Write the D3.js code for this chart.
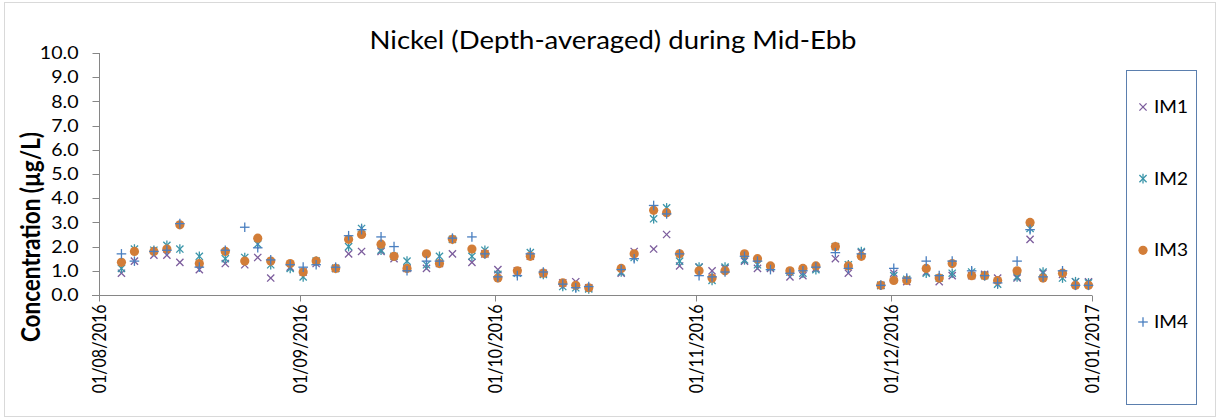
<!DOCTYPE html>
<html>
<head>
<meta charset="utf-8">
<script src="https://cdn.jsdelivr.net/npm/d3@7"></script>
<style>
  html, body { margin: 0; padding: 0; background: #fff; }
  svg { display: block; }
  text { font-family: Lato, "Open Sans", sans-serif; fill: #000; }
</style>
</head>
<body>
<svg id="chart" width="1220" height="419"></svg>
<script>
// Sampling dates (mid-ebb surveys, Aug–Dec 2016)
const dates = [
  "2016-08-04","2016-08-06","2016-08-09","2016-08-11","2016-08-13","2016-08-16","2016-08-20","2016-08-23","2016-08-25","2016-08-27","2016-08-30",
  "2016-09-01","2016-09-03","2016-09-06","2016-09-08","2016-09-10","2016-09-13","2016-09-15","2016-09-17","2016-09-20","2016-09-22","2016-09-24","2016-09-27","2016-09-29",
  "2016-10-01","2016-10-04","2016-10-06","2016-10-08","2016-10-11","2016-10-13","2016-10-15","2016-10-20","2016-10-22","2016-10-25","2016-10-27","2016-10-29",
  "2016-11-01","2016-11-03","2016-11-05","2016-11-08","2016-11-10","2016-11-12","2016-11-15","2016-11-17","2016-11-19","2016-11-22","2016-11-24","2016-11-26","2016-11-29",
  "2016-12-01","2016-12-03","2016-12-06","2016-12-08","2016-12-10","2016-12-13","2016-12-15","2016-12-17","2016-12-20","2016-12-22","2016-12-24","2016-12-27","2016-12-29","2016-12-31"
];

// Depth-averaged nickel concentration (µg/L) per station
const im1 = [0.9,1.4,1.65,1.65,1.35,1.05,1.3,1.25,1.55,0.7,1.15,
  0.95,1.3,1.1,1.7,1.8,1.8,1.5,1.1,1.1,1.3,1.7,1.35,1.7,
  1.05,1.0,1.6,0.9,0.5,0.55,0.3,0.9,1.8,1.9,2.5,1.2,
  1.15,1.0,1.1,1.4,1.1,1.1,0.75,0.8,1.1,1.5,0.9,1.75,0.4,
  0.9,0.55,0.95,0.55,0.8,0.8,0.85,0.7,0.7,2.3,0.9,0.85,0.55,0.55];
const im2 = [1.1,1.9,1.85,2.05,1.9,1.6,1.5,1.55,2.1,1.25,1.1,
  0.75,1.4,1.1,2.0,2.75,1.85,1.6,1.4,1.25,1.6,2.3,1.6,1.85,
  0.85,0.9,1.75,0.85,0.35,0.3,0.25,0.95,1.55,3.15,3.6,1.4,
  1.15,0.6,1.15,1.45,1.25,1.15,0.95,0.9,1.05,2.0,1.25,1.8,0.4,
  0.8,0.65,0.9,0.7,0.9,0.95,0.8,0.45,0.75,2.75,0.95,0.7,0.55,0.5];
const im3 = [1.35,1.8,1.8,1.9,2.9,1.3,1.8,1.4,2.35,1.4,1.3,
  0.95,1.4,1.1,2.3,2.5,2.1,1.6,1.1,1.7,1.3,2.3,1.9,1.7,
  0.7,1.0,1.6,0.9,0.5,0.4,0.3,1.1,1.7,3.5,3.4,1.7,
  1.0,0.7,1.0,1.7,1.5,1.2,1.0,1.1,1.2,2.0,1.2,1.6,0.4,
  0.6,0.6,1.1,0.7,1.3,0.8,0.8,0.6,1.0,3.0,0.7,0.9,0.4,0.4];
const im4 = [1.7,1.4,1.8,1.85,2.95,1.15,1.85,2.8,1.95,1.45,1.25,
  1.15,1.25,1.15,2.45,2.7,2.4,2.0,1.0,1.4,1.4,2.35,2.4,1.7,
  0.75,0.8,1.7,0.95,0.45,0.3,0.35,1.05,1.5,3.7,3.35,1.7,
  0.8,0.75,0.95,1.6,1.4,1.05,0.9,1.0,1.15,1.75,1.1,1.7,0.4,
  1.1,0.7,1.4,0.8,1.4,1.0,0.8,0.5,1.4,2.7,0.75,1.0,0.4,0.4];

const seriesNames = ["IM1","IM2","IM3","IM4"];
const yTicks = [0,1,2,3,4,5,6,7,8,9,10];
const xTickDates = ["2016-08-01","2016-09-01","2016-10-01","2016-11-01","2016-12-01","2017-01-01"];

const parseDay = d3.timeParse("%Y-%m-%d");
const parseSample = s => d3.timeHour.offset(parseDay(s), 11);
const fmt = d3.timeFormat("%d/%m/%Y");

const svg = d3.select("#chart");
const SX = 1.25; // horizontal text stretch

// outer chart border
svg.append("rect").attr("x", 4.5).attr("y", 2.5).attr("width", 1211).attr("height", 414)
  .attr("fill", "none").attr("stroke", "#d9d9d9");

const x = d3.scaleTime()
  .domain([parseDay(xTickDates[0]), parseDay(xTickDates[xTickDates.length - 1])])
  .range([99, 1092]);
const y = d3.scaleLinear().domain([0, 10]).range([295, 53]);

const axisColor = "#868686";

// y axis
const gy = svg.append("g").attr("transform", "translate(99.5,0)");
gy.append("line").attr("y1", 53).attr("y2", 301).attr("stroke", axisColor);
gy.selectAll("line.tk").data(yTicks).join("line").attr("class", "tk")
  .attr("x1", -7).attr("x2", 0)
  .attr("y1", d => Math.round(y(d)) + 0.5).attr("y2", d => Math.round(y(d)) + 0.5)
  .attr("stroke", axisColor);
gy.selectAll("text").data(yTicks).join("text")
  .attr("transform", d => `translate(-21,${y(d)}) scale(1.12,1)`)
  .attr("text-anchor", "end").attr("dy", "0.35em")
  .style("font-size", "17.5px")
  .text(d => d3.format(".1f")(d));

// x axis
const gx = svg.append("g").attr("transform", "translate(0,295.5)");
gx.append("line").attr("x1", 92).attr("x2", 1092).attr("stroke", axisColor);
const xt = xTickDates.map(parseDay);
gx.selectAll("line.tk").data(xt).join("line").attr("class", "tk")
  .attr("x1", d => Math.round(x(d)) + 0.5).attr("x2", d => Math.round(x(d)) + 0.5)
  .attr("y1", 0).attr("y2", 6).attr("stroke", axisColor);
gx.selectAll("text").data(xt).join("text")
  .attr("transform", d => `translate(${x(d)},9) scale(${SX},1) rotate(-90)`)
  .attr("text-anchor", "end").attr("dy", "0.35em")
  .style("font-size", "16px")
  .text(d => fmt(d));

// title
svg.append("text")
  .attr("transform", `translate(613,49) scale(1.08,1)`)
  .attr("text-anchor", "middle")
  .style("font-size", "25.5px")
  .text("Nickel (Depth-averaged) during Mid-Ebb");

// y axis title
svg.append("text")
  .attr("transform", `translate(40,237) scale(1.15,1) rotate(-90)`)
  .attr("text-anchor", "middle")
  .style("font-size", "22.5px").style("font-weight", "bold")
  .text("Concentration (µg/L)");

// marker drawers
const colors = { IM1: "#7b5c9c", IM2: "#3a95a9", IM3: "#d27d38", IM4: "#4a7fc0" };
function drawMarker(g, name) {
  const c = colors[name];
  if (name === "IM1" || name === "IM2") {
    const a = 3.6;
    g.append("line").attr("x1", -a).attr("y1", -a).attr("x2", a).attr("y2", a).attr("stroke", c).attr("stroke-width", 1.3);
    g.append("line").attr("x1", -a).attr("y1", a).attr("x2", a).attr("y2", -a).attr("stroke", c).attr("stroke-width", 1.3);
    if (name === "IM2") g.append("line").attr("x1", 0).attr("y1", -4.8).attr("x2", 0).attr("y2", 4.8).attr("stroke", c).attr("stroke-width", 1.3);
  } else if (name === "IM3") {
    g.append("circle").attr("r", 4.6).attr("fill", c);
  } else {
    const a = 4.8;
    g.append("line").attr("x1", -a).attr("x2", a).attr("stroke", c).attr("stroke-width", 1.3);
    g.append("line").attr("y1", -a).attr("y2", a).attr("stroke", c).attr("stroke-width", 1.3);
  }
}

const seriesValues = { IM1: im1, IM2: im2, IM3: im3, IM4: im4 };
const plot = svg.append("g");
seriesNames.forEach(name => {
  const pts = dates.map((d, i) => ({ t: parseSample(d), v: seriesValues[name][i] }));
  plot.append("g").selectAll("g").data(pts).join("g")
    .attr("transform", p => `translate(${x(p.t)},${y(p.v)})`)
    .each(function () { drawMarker(d3.select(this), name); });
});

// legend
const lg = svg.append("g");
lg.append("rect").attr("x", 1126.5).attr("y", 70.5).attr("width", 70).attr("height", 334)
  .attr("fill", "none").attr("stroke", "#5b7fae");
const ly = d3.scalePoint().domain(seriesNames).range([107, 322]);
seriesNames.forEach(name => {
  const g = lg.append("g").attr("transform", `translate(1143,${ly(name)})`);
  drawMarker(g, name);
  lg.append("text").attr("transform", `translate(1154,${ly(name)}) scale(1.12,1)`)
    .attr("dy", "0.35em").style("font-size", "17px").text(name);
});
</script>
</body>
</html>
